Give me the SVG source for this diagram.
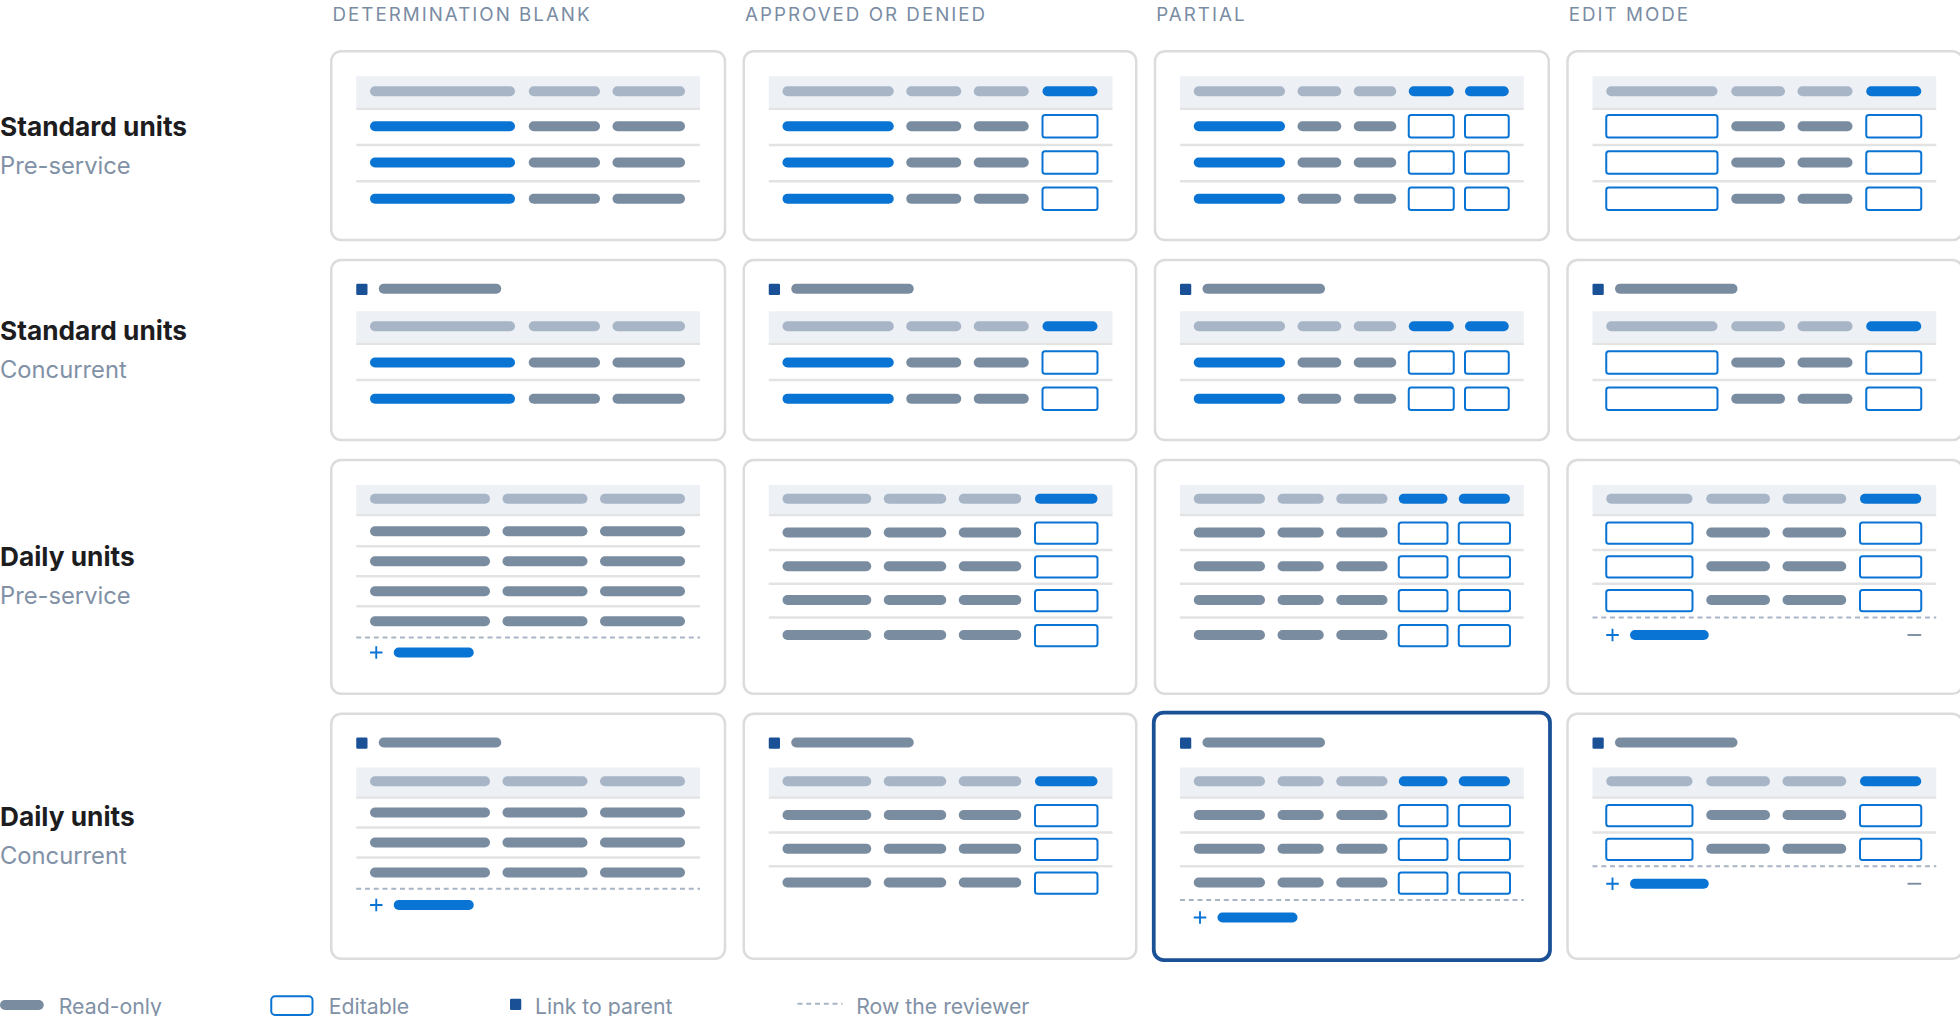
<svg xmlns="http://www.w3.org/2000/svg" width="1960" height="1016" viewBox="0 0 1960 1016">
<style>
text{font-family:Inter,"Noto Sans",sans-serif}
.ch{font-size:15px;fill:#7a8ca3;letter-spacing:1.6px}
.t1{font-size:21px;font-weight:700;fill:#1d1d1f}
.t2{font-size:19px;fill:#8191a6}
.card{fill:#fff;stroke:#dcdcdc;stroke-width:2}
.hl{fill:#fff;stroke:#1a5196;stroke-width:3}
.band{fill:#edf1f5}
.sep{stroke:#e3e3e3;stroke-width:2}
.dash{stroke:#a8b5c6;stroke-width:1.5;stroke-dasharray:4 3}
.hp{stroke:#a8b5c6;stroke-width:8;stroke-linecap:round}
.rp{stroke:#7a8ca0;stroke-width:8;stroke-linecap:round}
.bp{stroke:#0a74d4;stroke-width:8;stroke-linecap:round}
.box{fill:#fff;stroke:#0a74d4;stroke-width:1.6}
.lk{fill:#1a5196}
.pl{stroke:#0a74d4;stroke-width:1.5}
.mn{stroke:#7a8ca0;stroke-width:1.5}
.lg{font-size:17px;fill:#8191a6}
</style>
<g transform="scale(1.25)">
<g id="headers">
<text class="ch" x="266" y="17">DETERMINATION BLANK</text>
<text class="ch" x="596" y="17">APPROVED OR DENIED</text>
<text class="ch" x="925" y="17">PARTIAL</text>
<text class="ch" x="1255" y="17">EDIT MODE</text>
</g>
<g id="rowlabels">
<text class="t1" x="0" y="109">Standard units</text><text class="t2" x="0" y="139">Pre-service</text>
<text class="t1" x="0" y="272">Standard units</text><text class="t2" x="0" y="302">Concurrent</text>
<text class="t1" x="0" y="453">Daily units</text><text class="t2" x="0" y="483">Pre-service</text>
<text class="t1" x="0" y="661">Daily units</text><text class="t2" x="0" y="691">Concurrent</text>
</g>

<!-- ROW 1 -->
<g id="r1c1"><rect class="card" x="265" y="41" width="315" height="151" rx="8"/>
<rect class="band" x="285" y="61" width="275" height="25"/>
<line class="sep" x1="285" x2="560" y1="87" y2="87"/><line class="sep" x1="285" x2="560" y1="116" y2="116"/><line class="sep" x1="285" x2="560" y1="145" y2="145"/>
<line class="hp" x1="300" x2="408" y1="73" y2="73"/><line class="hp" x1="427" x2="476" y1="73" y2="73"/><line class="hp" x1="494" x2="544" y1="73" y2="73"/>
<line class="bp" x1="300" x2="408" y1="101" y2="101"/><line class="rp" x1="427" x2="476" y1="101" y2="101"/><line class="rp" x1="494" x2="544" y1="101" y2="101"/>
<line class="bp" x1="300" x2="408" y1="130" y2="130"/><line class="rp" x1="427" x2="476" y1="130" y2="130"/><line class="rp" x1="494" x2="544" y1="130" y2="130"/>
<line class="bp" x1="300" x2="408" y1="159" y2="159"/><line class="rp" x1="427" x2="476" y1="159" y2="159"/><line class="rp" x1="494" x2="544" y1="159" y2="159"/>
</g>
<g id="r1c2"><rect class="card" x="595" y="41" width="314" height="151" rx="8"/>
<rect class="band" x="615" y="61" width="275" height="25"/>
<line class="sep" x1="615" x2="890" y1="87" y2="87"/><line class="sep" x1="615" x2="890" y1="116" y2="116"/><line class="sep" x1="615" x2="890" y1="145" y2="145"/>
<line class="hp" x1="630" x2="711" y1="73" y2="73"/><line class="hp" x1="729" x2="765" y1="73" y2="73"/><line class="hp" x1="783" x2="819" y1="73" y2="73"/><line class="bp" x1="838" x2="874" y1="73" y2="73"/>
<line class="bp" x1="630" x2="711" y1="101" y2="101"/><line class="rp" x1="729" x2="765" y1="101" y2="101"/><line class="rp" x1="783" x2="819" y1="101" y2="101"/><rect class="box" x="834" y="92" width="44" height="18" rx="2"/>
<line class="bp" x1="630" x2="711" y1="130" y2="130"/><line class="rp" x1="729" x2="765" y1="130" y2="130"/><line class="rp" x1="783" x2="819" y1="130" y2="130"/><rect class="box" x="834" y="121" width="44" height="18" rx="2"/>
<line class="bp" x1="630" x2="711" y1="159" y2="159"/><line class="rp" x1="729" x2="765" y1="159" y2="159"/><line class="rp" x1="783" x2="819" y1="159" y2="159"/><rect class="box" x="834" y="150" width="44" height="18" rx="2"/>
</g>
<g id="r1c3"><rect class="card" x="924" y="41" width="315" height="151" rx="8"/>
<rect class="band" x="944" y="61" width="275" height="25"/>
<line class="sep" x1="944" x2="1219" y1="87" y2="87"/><line class="sep" x1="944" x2="1219" y1="116" y2="116"/><line class="sep" x1="944" x2="1219" y1="145" y2="145"/>
<line class="hp" x1="959" x2="1024" y1="73" y2="73"/><line class="hp" x1="1042" x2="1069" y1="73" y2="73"/><line class="hp" x1="1087" x2="1113" y1="73" y2="73"/><line class="bp" x1="1131" x2="1159" y1="73" y2="73"/><line class="bp" x1="1176" x2="1203" y1="73" y2="73"/>
<line class="bp" x1="959" x2="1024" y1="101" y2="101"/><line class="rp" x1="1042" x2="1069" y1="101" y2="101"/><line class="rp" x1="1087" x2="1113" y1="101" y2="101"/><rect class="box" x="1127" y="92" width="36" height="18" rx="2"/><rect class="box" x="1172" y="92" width="35" height="18" rx="2"/>
<line class="bp" x1="959" x2="1024" y1="130" y2="130"/><line class="rp" x1="1042" x2="1069" y1="130" y2="130"/><line class="rp" x1="1087" x2="1113" y1="130" y2="130"/><rect class="box" x="1127" y="121" width="36" height="18" rx="2"/><rect class="box" x="1172" y="121" width="35" height="18" rx="2"/>
<line class="bp" x1="959" x2="1024" y1="159" y2="159"/><line class="rp" x1="1042" x2="1069" y1="159" y2="159"/><line class="rp" x1="1087" x2="1113" y1="159" y2="159"/><rect class="box" x="1127" y="150" width="36" height="18" rx="2"/><rect class="box" x="1172" y="150" width="35" height="18" rx="2"/>
</g>
<g id="r1c4"><rect class="card" x="1254" y="41" width="316" height="151" rx="8"/>
<rect class="band" x="1274" y="61" width="275" height="25"/>
<line class="sep" x1="1274" x2="1549" y1="87" y2="87"/><line class="sep" x1="1274" x2="1549" y1="116" y2="116"/><line class="sep" x1="1274" x2="1549" y1="145" y2="145"/>
<line class="hp" x1="1289" x2="1370" y1="73" y2="73"/><line class="hp" x1="1389" x2="1424" y1="73" y2="73"/><line class="hp" x1="1442" x2="1478" y1="73" y2="73"/><line class="bp" x1="1497" x2="1533" y1="73" y2="73"/>
<rect class="box" x="1285" y="92" width="89" height="18" rx="2"/><line class="rp" x1="1389" x2="1424" y1="101" y2="101"/><line class="rp" x1="1442" x2="1478" y1="101" y2="101"/><rect class="box" x="1493" y="92" width="44" height="18" rx="2"/>
<rect class="box" x="1285" y="121" width="89" height="18" rx="2"/><line class="rp" x1="1389" x2="1424" y1="130" y2="130"/><line class="rp" x1="1442" x2="1478" y1="130" y2="130"/><rect class="box" x="1493" y="121" width="44" height="18" rx="2"/>
<rect class="box" x="1285" y="150" width="89" height="18" rx="2"/><line class="rp" x1="1389" x2="1424" y1="159" y2="159"/><line class="rp" x1="1442" x2="1478" y1="159" y2="159"/><rect class="box" x="1493" y="150" width="44" height="18" rx="2"/>
</g>

<!-- ROW 2 -->
<g id="r2c1"><rect class="card" x="265" y="208" width="315" height="144" rx="8"/>
<rect class="lk" x="285" y="227" width="9" height="9" rx="1"/><line class="rp" x1="307" x2="397" y1="231" y2="231"/>
<rect class="band" x="285" y="249" width="275" height="25"/>
<line class="sep" x1="285" x2="560" y1="275" y2="275"/><line class="sep" x1="285" x2="560" y1="304" y2="304"/>
<line class="hp" x1="300" x2="408" y1="261" y2="261"/><line class="hp" x1="427" x2="476" y1="261" y2="261"/><line class="hp" x1="494" x2="544" y1="261" y2="261"/>
<line class="bp" x1="300" x2="408" y1="290" y2="290"/><line class="rp" x1="427" x2="476" y1="290" y2="290"/><line class="rp" x1="494" x2="544" y1="290" y2="290"/>
<line class="bp" x1="300" x2="408" y1="319" y2="319"/><line class="rp" x1="427" x2="476" y1="319" y2="319"/><line class="rp" x1="494" x2="544" y1="319" y2="319"/>
</g>
<g id="r2c2"><rect class="card" x="595" y="208" width="314" height="144" rx="8"/>
<rect class="lk" x="615" y="227" width="9" height="9" rx="1"/><line class="rp" x1="637" x2="727" y1="231" y2="231"/>
<rect class="band" x="615" y="249" width="275" height="25"/>
<line class="sep" x1="615" x2="890" y1="275" y2="275"/><line class="sep" x1="615" x2="890" y1="304" y2="304"/>
<line class="hp" x1="630" x2="711" y1="261" y2="261"/><line class="hp" x1="729" x2="765" y1="261" y2="261"/><line class="hp" x1="783" x2="819" y1="261" y2="261"/><line class="bp" x1="838" x2="874" y1="261" y2="261"/>
<line class="bp" x1="630" x2="711" y1="290" y2="290"/><line class="rp" x1="729" x2="765" y1="290" y2="290"/><line class="rp" x1="783" x2="819" y1="290" y2="290"/><rect class="box" x="834" y="281" width="44" height="18" rx="2"/>
<line class="bp" x1="630" x2="711" y1="319" y2="319"/><line class="rp" x1="729" x2="765" y1="319" y2="319"/><line class="rp" x1="783" x2="819" y1="319" y2="319"/><rect class="box" x="834" y="310" width="44" height="18" rx="2"/>
</g>
<g id="r2c3"><rect class="card" x="924" y="208" width="315" height="144" rx="8"/>
<rect class="lk" x="944" y="227" width="9" height="9" rx="1"/><line class="rp" x1="966" x2="1056" y1="231" y2="231"/>
<rect class="band" x="944" y="249" width="275" height="25"/>
<line class="sep" x1="944" x2="1219" y1="275" y2="275"/><line class="sep" x1="944" x2="1219" y1="304" y2="304"/>
<line class="hp" x1="959" x2="1024" y1="261" y2="261"/><line class="hp" x1="1042" x2="1069" y1="261" y2="261"/><line class="hp" x1="1087" x2="1113" y1="261" y2="261"/><line class="bp" x1="1131" x2="1159" y1="261" y2="261"/><line class="bp" x1="1176" x2="1203" y1="261" y2="261"/>
<line class="bp" x1="959" x2="1024" y1="290" y2="290"/><line class="rp" x1="1042" x2="1069" y1="290" y2="290"/><line class="rp" x1="1087" x2="1113" y1="290" y2="290"/><rect class="box" x="1127" y="281" width="36" height="18" rx="2"/><rect class="box" x="1172" y="281" width="35" height="18" rx="2"/>
<line class="bp" x1="959" x2="1024" y1="319" y2="319"/><line class="rp" x1="1042" x2="1069" y1="319" y2="319"/><line class="rp" x1="1087" x2="1113" y1="319" y2="319"/><rect class="box" x="1127" y="310" width="36" height="18" rx="2"/><rect class="box" x="1172" y="310" width="35" height="18" rx="2"/>
</g>
<g id="r2c4"><rect class="card" x="1254" y="208" width="316" height="144" rx="8"/>
<rect class="lk" x="1274" y="227" width="9" height="9" rx="1"/><line class="rp" x1="1296" x2="1386" y1="231" y2="231"/>
<rect class="band" x="1274" y="249" width="275" height="25"/>
<line class="sep" x1="1274" x2="1549" y1="275" y2="275"/><line class="sep" x1="1274" x2="1549" y1="304" y2="304"/>
<line class="hp" x1="1289" x2="1370" y1="261" y2="261"/><line class="hp" x1="1389" x2="1424" y1="261" y2="261"/><line class="hp" x1="1442" x2="1478" y1="261" y2="261"/><line class="bp" x1="1497" x2="1533" y1="261" y2="261"/>
<rect class="box" x="1285" y="281" width="89" height="18" rx="2"/><line class="rp" x1="1389" x2="1424" y1="290" y2="290"/><line class="rp" x1="1442" x2="1478" y1="290" y2="290"/><rect class="box" x="1493" y="281" width="44" height="18" rx="2"/>
<rect class="box" x="1285" y="310" width="89" height="18" rx="2"/><line class="rp" x1="1389" x2="1424" y1="319" y2="319"/><line class="rp" x1="1442" x2="1478" y1="319" y2="319"/><rect class="box" x="1493" y="310" width="44" height="18" rx="2"/>
</g>

<!-- ROW 3 -->
<g id="r3c1"><rect class="card" x="265" y="368" width="315" height="187" rx="8"/>
<rect class="band" x="285" y="388" width="275" height="23"/>
<line class="sep" x1="285" x2="560" y1="412" y2="412"/><line class="sep" x1="285" x2="560" y1="437" y2="437"/><line class="sep" x1="285" x2="560" y1="461" y2="461"/><line class="sep" x1="285" x2="560" y1="485" y2="485"/>
<line class="dash" x1="285" x2="560" y1="510" y2="510"/>
<line class="hp" x1="300" x2="388" y1="399" y2="399"/><line class="hp" x1="406" x2="466" y1="399" y2="399"/><line class="hp" x1="484" x2="544" y1="399" y2="399"/>
<line class="rp" x1="300" x2="388" y1="425" y2="425"/><line class="rp" x1="406" x2="466" y1="425" y2="425"/><line class="rp" x1="484" x2="544" y1="425" y2="425"/>
<line class="rp" x1="300" x2="388" y1="449" y2="449"/><line class="rp" x1="406" x2="466" y1="449" y2="449"/><line class="rp" x1="484" x2="544" y1="449" y2="449"/>
<line class="rp" x1="300" x2="388" y1="473" y2="473"/><line class="rp" x1="406" x2="466" y1="473" y2="473"/><line class="rp" x1="484" x2="544" y1="473" y2="473"/>
<line class="rp" x1="300" x2="388" y1="497" y2="497"/><line class="rp" x1="406" x2="466" y1="497" y2="497"/><line class="rp" x1="484" x2="544" y1="497" y2="497"/>
<path class="pl" d="M296 522h10M301 517v10"/><line class="bp" x1="319" x2="375" y1="522" y2="522"/>
</g>
<g id="r3c2"><rect class="card" x="595" y="368" width="314" height="187" rx="8"/>
<rect class="band" x="615" y="388" width="275" height="23"/>
<line class="sep" x1="615" x2="890" y1="412" y2="412"/><line class="sep" x1="615" x2="890" y1="440" y2="440"/><line class="sep" x1="615" x2="890" y1="467" y2="467"/><line class="sep" x1="615" x2="890" y1="494" y2="494"/>
<line class="hp" x1="630" x2="693" y1="399" y2="399"/><line class="hp" x1="711" x2="753" y1="399" y2="399"/><line class="hp" x1="771" x2="813" y1="399" y2="399"/><line class="bp" x1="832" x2="874" y1="399" y2="399"/>
<line class="rp" x1="630" x2="693" y1="426" y2="426"/><line class="rp" x1="711" x2="753" y1="426" y2="426"/><line class="rp" x1="771" x2="813" y1="426" y2="426"/><rect class="box" x="828" y="418" width="50" height="17" rx="2"/>
<line class="rp" x1="630" x2="693" y1="453" y2="453"/><line class="rp" x1="711" x2="753" y1="453" y2="453"/><line class="rp" x1="771" x2="813" y1="453" y2="453"/><rect class="box" x="828" y="445" width="50" height="17" rx="2"/>
<line class="rp" x1="630" x2="693" y1="480" y2="480"/><line class="rp" x1="711" x2="753" y1="480" y2="480"/><line class="rp" x1="771" x2="813" y1="480" y2="480"/><rect class="box" x="828" y="472" width="50" height="17" rx="2"/>
<line class="rp" x1="630" x2="693" y1="508" y2="508"/><line class="rp" x1="711" x2="753" y1="508" y2="508"/><line class="rp" x1="771" x2="813" y1="508" y2="508"/><rect class="box" x="828" y="500" width="50" height="17" rx="2"/>
</g>
<g id="r3c3"><rect class="card" x="924" y="368" width="315" height="187" rx="8"/>
<rect class="band" x="944" y="388" width="275" height="23"/>
<line class="sep" x1="944" x2="1219" y1="412" y2="412"/><line class="sep" x1="944" x2="1219" y1="440" y2="440"/><line class="sep" x1="944" x2="1219" y1="467" y2="467"/><line class="sep" x1="944" x2="1219" y1="494" y2="494"/>
<line class="hp" x1="959" x2="1008" y1="399" y2="399"/><line class="hp" x1="1026" x2="1055" y1="399" y2="399"/><line class="hp" x1="1073" x2="1106" y1="399" y2="399"/><line class="bp" x1="1123" x2="1154" y1="399" y2="399"/><line class="bp" x1="1171" x2="1204" y1="399" y2="399"/>
<line class="rp" x1="959" x2="1008" y1="426" y2="426"/><line class="rp" x1="1026" x2="1055" y1="426" y2="426"/><line class="rp" x1="1073" x2="1106" y1="426" y2="426"/><rect class="box" x="1119" y="418" width="39" height="17" rx="2"/><rect class="box" x="1167" y="418" width="41" height="17" rx="2"/>
<line class="rp" x1="959" x2="1008" y1="453" y2="453"/><line class="rp" x1="1026" x2="1055" y1="453" y2="453"/><line class="rp" x1="1073" x2="1106" y1="453" y2="453"/><rect class="box" x="1119" y="445" width="39" height="17" rx="2"/><rect class="box" x="1167" y="445" width="41" height="17" rx="2"/>
<line class="rp" x1="959" x2="1008" y1="480" y2="480"/><line class="rp" x1="1026" x2="1055" y1="480" y2="480"/><line class="rp" x1="1073" x2="1106" y1="480" y2="480"/><rect class="box" x="1119" y="472" width="39" height="17" rx="2"/><rect class="box" x="1167" y="472" width="41" height="17" rx="2"/>
<line class="rp" x1="959" x2="1008" y1="508" y2="508"/><line class="rp" x1="1026" x2="1055" y1="508" y2="508"/><line class="rp" x1="1073" x2="1106" y1="508" y2="508"/><rect class="box" x="1119" y="500" width="39" height="17" rx="2"/><rect class="box" x="1167" y="500" width="41" height="17" rx="2"/>
</g>
<g id="r3c4"><rect class="card" x="1254" y="368" width="316" height="187" rx="8"/>
<rect class="band" x="1274" y="388" width="275" height="23"/>
<line class="sep" x1="1274" x2="1549" y1="412" y2="412"/><line class="sep" x1="1274" x2="1549" y1="440" y2="440"/><line class="sep" x1="1274" x2="1549" y1="467" y2="467"/>
<line class="dash" x1="1274" x2="1549" y1="494" y2="494"/>
<line class="hp" x1="1289" x2="1350" y1="399" y2="399"/><line class="hp" x1="1369" x2="1412" y1="399" y2="399"/><line class="hp" x1="1430" x2="1473" y1="399" y2="399"/><line class="bp" x1="1492" x2="1533" y1="399" y2="399"/>
<rect class="box" x="1285" y="418" width="69" height="17" rx="2"/><line class="rp" x1="1369" x2="1412" y1="426" y2="426"/><line class="rp" x1="1430" x2="1473" y1="426" y2="426"/><rect class="box" x="1488" y="418" width="49" height="17" rx="2"/>
<rect class="box" x="1285" y="445" width="69" height="17" rx="2"/><line class="rp" x1="1369" x2="1412" y1="453" y2="453"/><line class="rp" x1="1430" x2="1473" y1="453" y2="453"/><rect class="box" x="1488" y="445" width="49" height="17" rx="2"/>
<rect class="box" x="1285" y="472" width="69" height="17" rx="2"/><line class="rp" x1="1369" x2="1412" y1="480" y2="480"/><line class="rp" x1="1430" x2="1473" y1="480" y2="480"/><rect class="box" x="1488" y="472" width="49" height="17" rx="2"/>
<path class="pl" d="M1285 508h10M1290 503v10"/><line class="bp" x1="1308" x2="1363" y1="508" y2="508"/>
<line class="mn" x1="1526" x2="1537" y1="508" y2="508"/>
</g>

<!-- ROW 4 -->
<g id="r4c1"><rect class="card" x="265" y="571" width="315" height="196" rx="8"/>
<rect class="lk" x="285" y="590" width="9" height="9" rx="1"/><line class="rp" x1="307" x2="397" y1="594" y2="594"/>
<rect class="band" x="285" y="614" width="275" height="23"/>
<line class="sep" x1="285" x2="560" y1="638" y2="638"/><line class="sep" x1="285" x2="560" y1="662" y2="662"/><line class="sep" x1="285" x2="560" y1="686" y2="686"/>
<line class="dash" x1="285" x2="560" y1="711" y2="711"/>
<line class="hp" x1="300" x2="388" y1="625" y2="625"/><line class="hp" x1="406" x2="466" y1="625" y2="625"/><line class="hp" x1="484" x2="544" y1="625" y2="625"/>
<line class="rp" x1="300" x2="388" y1="650" y2="650"/><line class="rp" x1="406" x2="466" y1="650" y2="650"/><line class="rp" x1="484" x2="544" y1="650" y2="650"/>
<line class="rp" x1="300" x2="388" y1="674" y2="674"/><line class="rp" x1="406" x2="466" y1="674" y2="674"/><line class="rp" x1="484" x2="544" y1="674" y2="674"/>
<line class="rp" x1="300" x2="388" y1="698" y2="698"/><line class="rp" x1="406" x2="466" y1="698" y2="698"/><line class="rp" x1="484" x2="544" y1="698" y2="698"/>
<path class="pl" d="M296 724h10M301 719v10"/><line class="bp" x1="319" x2="375" y1="724" y2="724"/>
</g>
<g id="r4c2"><rect class="card" x="595" y="571" width="314" height="196" rx="8"/>
<rect class="lk" x="615" y="590" width="9" height="9" rx="1"/><line class="rp" x1="637" x2="727" y1="594" y2="594"/>
<rect class="band" x="615" y="614" width="275" height="23"/>
<line class="sep" x1="615" x2="890" y1="638" y2="638"/><line class="sep" x1="615" x2="890" y1="666" y2="666"/><line class="sep" x1="615" x2="890" y1="693" y2="693"/>
<line class="hp" x1="630" x2="693" y1="625" y2="625"/><line class="hp" x1="711" x2="753" y1="625" y2="625"/><line class="hp" x1="771" x2="813" y1="625" y2="625"/><line class="bp" x1="832" x2="874" y1="625" y2="625"/>
<line class="rp" x1="630" x2="693" y1="652" y2="652"/><line class="rp" x1="711" x2="753" y1="652" y2="652"/><line class="rp" x1="771" x2="813" y1="652" y2="652"/><rect class="box" x="828" y="644" width="50" height="17" rx="2"/>
<line class="rp" x1="630" x2="693" y1="679" y2="679"/><line class="rp" x1="711" x2="753" y1="679" y2="679"/><line class="rp" x1="771" x2="813" y1="679" y2="679"/><rect class="box" x="828" y="671" width="50" height="17" rx="2"/>
<line class="rp" x1="630" x2="693" y1="706" y2="706"/><line class="rp" x1="711" x2="753" y1="706" y2="706"/><line class="rp" x1="771" x2="813" y1="706" y2="706"/><rect class="box" x="828" y="698" width="50" height="17" rx="2"/>
</g>
<g id="r4c3"><rect class="hl" x="923" y="570" width="317" height="198" rx="8"/>
<rect class="lk" x="944" y="590" width="9" height="9" rx="1"/><line class="rp" x1="966" x2="1056" y1="594" y2="594"/>
<rect class="band" x="944" y="614" width="275" height="23"/>
<line class="sep" x1="944" x2="1219" y1="638" y2="638"/><line class="sep" x1="944" x2="1219" y1="666" y2="666"/><line class="sep" x1="944" x2="1219" y1="693" y2="693"/>
<line class="dash" x1="944" x2="1219" y1="720" y2="720"/>
<line class="hp" x1="959" x2="1008" y1="625" y2="625"/><line class="hp" x1="1026" x2="1055" y1="625" y2="625"/><line class="hp" x1="1073" x2="1106" y1="625" y2="625"/><line class="bp" x1="1123" x2="1154" y1="625" y2="625"/><line class="bp" x1="1171" x2="1204" y1="625" y2="625"/>
<line class="rp" x1="959" x2="1008" y1="652" y2="652"/><line class="rp" x1="1026" x2="1055" y1="652" y2="652"/><line class="rp" x1="1073" x2="1106" y1="652" y2="652"/><rect class="box" x="1119" y="644" width="39" height="17" rx="2"/><rect class="box" x="1167" y="644" width="41" height="17" rx="2"/>
<line class="rp" x1="959" x2="1008" y1="679" y2="679"/><line class="rp" x1="1026" x2="1055" y1="679" y2="679"/><line class="rp" x1="1073" x2="1106" y1="679" y2="679"/><rect class="box" x="1119" y="671" width="39" height="17" rx="2"/><rect class="box" x="1167" y="671" width="41" height="17" rx="2"/>
<line class="rp" x1="959" x2="1008" y1="706" y2="706"/><line class="rp" x1="1026" x2="1055" y1="706" y2="706"/><line class="rp" x1="1073" x2="1106" y1="706" y2="706"/><rect class="box" x="1119" y="698" width="39" height="17" rx="2"/><rect class="box" x="1167" y="698" width="41" height="17" rx="2"/>
<path class="pl" d="M955 734h10M960 729v10"/><line class="bp" x1="978" x2="1034" y1="734" y2="734"/>
</g>
<g id="r4c4"><rect class="card" x="1254" y="571" width="316" height="196" rx="8"/>
<rect class="lk" x="1274" y="590" width="9" height="9" rx="1"/><line class="rp" x1="1296" x2="1386" y1="594" y2="594"/>
<rect class="band" x="1274" y="614" width="275" height="23"/>
<line class="sep" x1="1274" x2="1549" y1="638" y2="638"/><line class="sep" x1="1274" x2="1549" y1="666" y2="666"/>
<line class="dash" x1="1274" x2="1549" y1="693" y2="693"/>
<line class="hp" x1="1289" x2="1350" y1="625" y2="625"/><line class="hp" x1="1369" x2="1412" y1="625" y2="625"/><line class="hp" x1="1430" x2="1473" y1="625" y2="625"/><line class="bp" x1="1492" x2="1533" y1="625" y2="625"/>
<rect class="box" x="1285" y="644" width="69" height="17" rx="2"/><line class="rp" x1="1369" x2="1412" y1="652" y2="652"/><line class="rp" x1="1430" x2="1473" y1="652" y2="652"/><rect class="box" x="1488" y="644" width="49" height="17" rx="2"/>
<rect class="box" x="1285" y="671" width="69" height="17" rx="2"/><line class="rp" x1="1369" x2="1412" y1="679" y2="679"/><line class="rp" x1="1430" x2="1473" y1="679" y2="679"/><rect class="box" x="1488" y="671" width="49" height="17" rx="2"/>
<path class="pl" d="M1285 707h10M1290 702v10"/><line class="bp" x1="1308" x2="1363" y1="707" y2="707"/>
<line class="mn" x1="1526" x2="1537" y1="707" y2="707"/>
</g>

<g id="legend">
<line class="rp" x1="4" x2="31" y1="804" y2="804"/><text class="lg" x="47" y="811">Read-only</text>
<rect class="box" x="217" y="797" width="33" height="15" rx="3"/><text class="lg" x="263" y="811">Editable</text>
<rect class="lk" x="408" y="799" width="9" height="9" rx="1"/><text class="lg" x="428" y="811">Link to parent</text>
<line class="dash" x1="638" x2="674" y1="803" y2="803"/><text class="lg" x="685" y="811">Row the reviewer</text>
</g>
</g>
</svg>
